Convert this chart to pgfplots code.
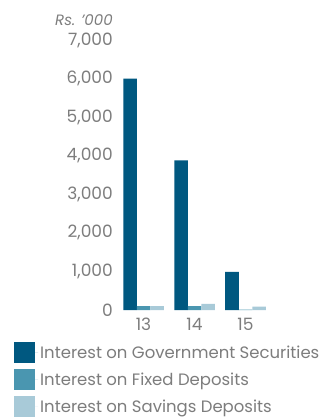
\documentclass[border=0pt]{standalone}
\usepackage{pgfplots}
\pgfplotsset{compat=1.18}
\usepackage{fontspec}
\setmainfont{Poppins}
\definecolor{cdark}{RGB}{0,88,128}
\definecolor{cmid}{RGB}{74,150,176}
\definecolor{clight}{RGB}{168,202,216}
\definecolor{tgray}{RGB}{125,125,125}
\begin{document}
\begin{tikzpicture}[x=1pt,y=1pt]
\useasboundingbox (0,0) rectangle (320,418);
\begin{axis}[
  at={(118pt,108pt)}, anchor=south west,
  scale only axis, width=153pt, height=270pt,
  xmin=-0.5, xmax=2.5, ymin=0, ymax=7000,
  axis line style={draw=none},
  major tick length=0pt,
  xtick={0,1,2}, xticklabels={13,14,15},
  ytick={0,1000,...,7000},
  /pgf/number format/assume math mode=true,
  /pgf/number format/1000 sep={,},
  scaled y ticks=false,
  ticklabel style={font=\fontsize{17}{17}\selectfont, text=tgray},
  yticklabel style={inner sep=0pt, xshift=-5pt},
  xticklabel style={inner sep=0pt, yshift=-8pt},
  ybar=0pt, bar width=13.5pt,
  legend style={at={(axis description cs:-0.68,-0.1185)}, anchor=north west,
    draw=none, inner sep=0pt, row sep=6pt,
    font=\fontsize{16.5}{16.5}\selectfont, text=tgray,
    cells={anchor=west}},
  legend cell align=left,
  legend image code/.code={\fill[#1] (0pt,-10.5pt) rectangle (21pt,10.5pt);
    \path (0pt,0pt) -- (24pt,0pt);},
  clip=false
]
\addplot[fill=cdark, draw=none, bar shift=-13.5pt] coordinates {(0,6000) (1,3880) (2,990)};
\addplot[fill=cmid, draw=none, bar shift=0pt] coordinates {(0,100) (1,100) (2,10)};
\addplot[fill=clight, draw=none, bar shift=13.5pt] coordinates {(0,100) (1,160) (2,85)};
\legend{Interest on Government Securities, Interest on Fixed Deposits, Interest on Savings Deposits}
\node[anchor=base east, inner sep=0pt, font=\fontsize{15}{15}\selectfont\itshape, text=tgray] at (axis description cs:-0.033,1.052) {Rs. '000};
\end{axis}
\end{tikzpicture}
\end{document}
